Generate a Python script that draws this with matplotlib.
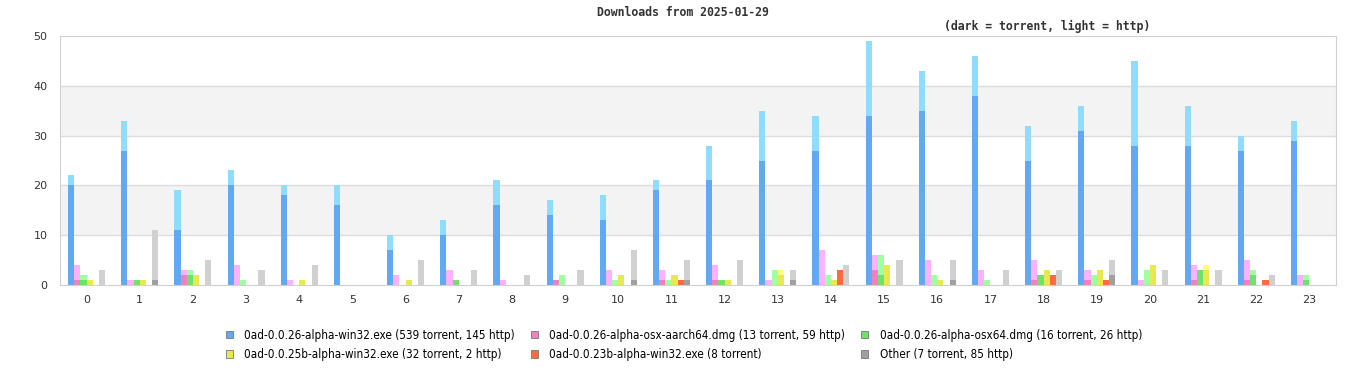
import numpy as np
import matplotlib.pyplot as plt
from matplotlib.patches import Patch

hours = list(range(24))

# torrent (dark) / http (light) downloads per hour for each file
win32_t = [20, 27, 11, 20, 18, 16, 7, 10, 16, 14, 13, 19, 21, 25, 27, 34, 35, 38, 25, 31, 28, 28, 27, 29]
win32_h = [2, 6, 8, 3, 2, 4, 3, 3, 5, 3, 5, 2, 7, 10, 7, 15, 8, 8, 7, 5, 17, 8, 3, 4]
aarch_t = [1, 0, 2, 0, 0, 0, 0, 0, 0, 1, 0, 1, 1, 0, 0, 3, 0, 0, 1, 1, 0, 1, 1, 0]
aarch_h = [3, 1, 1, 4, 1, 0, 2, 3, 1, 0, 3, 2, 3, 1, 7, 3, 5, 3, 4, 2, 1, 3, 4, 2]
osx64_t = [1, 1, 2, 0, 0, 0, 0, 1, 0, 0, 0, 0, 1, 0, 0, 2, 0, 0, 2, 0, 0, 3, 2, 1]
osx64_h = [1, 0, 1, 1, 0, 0, 0, 0, 0, 2, 1, 1, 0, 3, 2, 4, 2, 1, 0, 2, 3, 0, 1, 1]
w25b_t = [1, 1, 2, 0, 1, 0, 1, 0, 0, 0, 2, 2, 1, 2, 1, 4, 1, 0, 3, 3, 4, 3, 0, 0]
w25b_h = [0, 0, 0, 0, 0, 0, 0, 0, 0, 0, 0, 0, 0, 1, 0, 0, 0, 0, 0, 0, 0, 1, 0, 0]
w23b_t = [0, 0, 0, 0, 0, 0, 0, 0, 0, 0, 0, 1, 0, 0, 3, 0, 0, 0, 2, 1, 0, 0, 1, 0]
w23b_h = [0] * 24
other_t = [0, 1, 0, 0, 0, 0, 0, 0, 0, 0, 1, 1, 0, 1, 0, 0, 1, 0, 0, 2, 0, 0, 0, 0]
other_h = [3, 10, 5, 3, 4, 0, 5, 3, 2, 3, 6, 4, 5, 2, 4, 5, 4, 3, 3, 3, 3, 3, 2, 0]

labels = ["0ad-0.0.26-alpha-win32.exe (539 torrent, 145 http)",
          "0ad-0.0.26-alpha-osx-aarch64.dmg (13 torrent, 59 http)",
          "0ad-0.0.26-alpha-osx64.dmg (16 torrent, 26 http)",
          "0ad-0.0.25b-alpha-win32.exe (32 torrent, 2 http)",
          "0ad-0.0.23b-alpha-win32.exe (8 torrent)",
          "Other (7 torrent, 85 http)"]
series = [(win32_t, win32_h), (aarch_t, aarch_h), (osx64_t, osx64_h),
          (w25b_t, w25b_h), (w23b_t, w23b_h), (other_t, other_h)]
dark = ["#62a8f2", "#f080c0", "#6de26d", "#e8e850", "#ff6a40", "#a0a0a0"]
light = ["#90dcff", "#ffb0ff", "#a0ffa0", "#ffff80", "#ffa080", "#d0d0d0"]

fig = plt.figure(figsize=(13.66, 3.8), dpi=100)
ax = fig.add_axes([60 / 1366, 95 / 380, 1276 / 1366, 249 / 380])

# alternating background bands
ax.axhspan(10, 20, color="#f3f3f3", zorder=0, lw=0)
ax.axhspan(30, 40, color="#f3f3f3", zorder=0, lw=0)
for y in [10, 20, 30, 40]:
    ax.axhline(y, color="#dddddd", lw=1, zorder=0.5)

x = np.arange(24)
w = 0.116
for k, (t, h) in enumerate(series):
    xs = x + (k - 2.5) * w
    ax.bar(xs, t, width=w, color=dark[k], lw=0, zorder=2)
    ax.bar(xs, h, width=w, bottom=t, color=light[k], lw=0, zorder=2)

ax.set_xlim(-0.5, 23.5)
ax.set_ylim(0, 50)
ax.set_yticks([0, 10, 20, 30, 40, 50])
ax.set_xticks(x)
ax.set_xticklabels([str(hh) for hh in hours])
ax.tick_params(length=0, labelsize=8, colors="#333333", pad=9)
ax.tick_params(axis="x", pad=7)
for s in ax.spines.values():
    s.set_color("#d0d0d0")

fig.text(683 / 1366, 1 - 13 / 380, "Downloads from 2025-01-29", ha="center", va="center",
         family="DejaVu Sans Mono", weight="bold", fontsize=8.3, color="#333333")
fig.text(1047 / 1366, 1 - 26 / 380, "(dark = torrent, light = http)", ha="center", va="center",
         family="DejaVu Sans Mono", weight="bold", fontsize=8.3, color="#333333")

handles = [Patch(facecolor=dark[k], edgecolor="#777777", lw=0.6) for k in range(6)]
order = [0, 3, 1, 4, 2, 5]
fig.legend([handles[i] for i in order], [labels[i] for i in order], ncol=3,
           loc="upper left", bbox_to_anchor=(215 / 1366, 1 - 318 / 380),
           frameon=False, handlelength=0.65, handleheight=0.65,
           handletextpad=0.95, columnspacing=1.35, labelspacing=0.55,
           prop={"family": "DejaVu Sans", "stretch": "condensed", "size": 8.4})

fig.savefig("out.png", dpi=100)
